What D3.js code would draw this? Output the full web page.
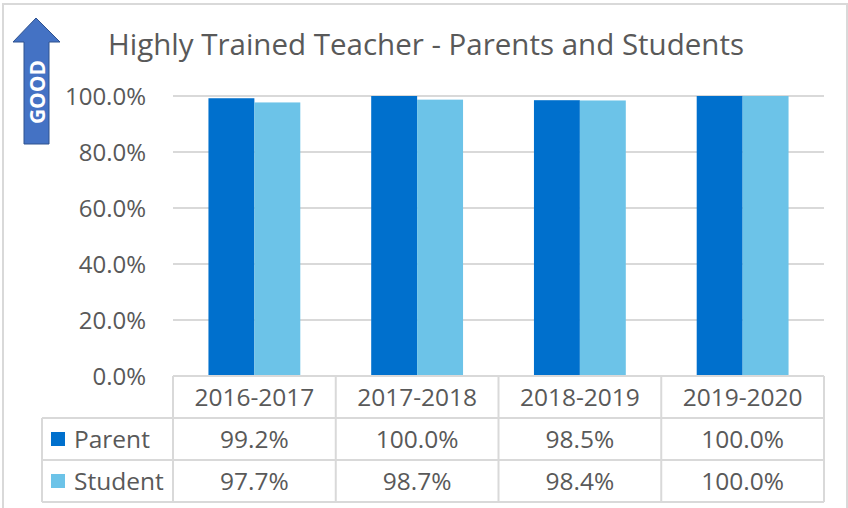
<!DOCTYPE html>
<html><head><meta charset="utf-8">
<script src="https://cdn.jsdelivr.net/npm/d3@7"></script>
<style>body{margin:0;background:#fff}svg{display:block}</style>
</head><body>
<script>
const categories = ["2016-2017","2017-2018","2018-2019","2019-2020"];
const seriesNames = ["Parent","Student"];
const parentValues = [99.2, 100.0, 98.5, 100.0];
const studentValues = [97.7, 98.7, 98.4, 100.0];
const yTicks = [0, 20, 40, 60, 80, 100];
const colors = ["#0070CD", "#6CC3E8"];
const title = "Highly Trained Teacher - Parents and Students";

const W = 848, H = 508;
const font = "'Open Sans', sans-serif";
const textColor = "#595959";
const gridColor = "#D9D9D9";
const svg = d3.select("body").append("svg").attr("width", W).attr("height", H);

// outer border
svg.append("rect").attr("x", 3).attr("y", 4).attr("width", 844).attr("height", 510)
  .attr("fill", "none").attr("stroke", "#D9D9D9").attr("stroke-width", 2);

const plotLeft = 173, plotRight = 824, plotTop = 96, plotBottom = 376;
const x = d3.scaleBand().domain(categories).range([plotLeft, plotRight]);
const y = d3.scaleLinear().domain([0, 100]).range([plotBottom, plotTop]);
const inner = d3.scaleBand().domain(seriesNames).range([0, x.bandwidth()]).paddingOuter(0.772).paddingInner(0);

// gridlines
svg.append("g").selectAll("line").data(yTicks.filter(d => d > 0)).join("line")
  .attr("x1", plotLeft).attr("x2", plotRight)
  .attr("y1", d => y(d)).attr("y2", d => y(d))
  .attr("stroke", gridColor).attr("stroke-width", 2);

// y axis labels
const yAxis = d3.axisLeft(y).tickValues(yTicks).tickFormat(d => d.toFixed(1) + "%").tickSize(0).tickPadding(0);
const ya = svg.append("g").attr("transform", `translate(146,0)`).call(yAxis);
ya.select(".domain").remove();
ya.selectAll("text").attr("font-family", font).attr("font-size", 24).attr("fill", textColor).attr("dy", "0.35em");

// bars
const series = [parentValues, studentValues];
categories.forEach((c, i) => {
  seriesNames.forEach((s, j) => {
    svg.append("rect")
      .attr("x", x(c) + inner(s))
      .attr("y", y(series[j][i]))
      .attr("width", inner.bandwidth())
      .attr("height", y(0) - y(series[j][i]))
      .attr("fill", colors[j]);
  });
});

// data table
const rowH = 42;
const tableTop = plotBottom;
const legendLeft = 42;
const tg = svg.append("g");
tg.append("line").attr("x1", plotLeft).attr("x2", plotRight).attr("y1", tableTop).attr("y2", tableTop);
[1, 2, 3].forEach(r => {
  tg.append("line").attr("x1", legendLeft).attr("x2", plotRight)
    .attr("y1", tableTop + r * rowH).attr("y2", tableTop + r * rowH);
});
tg.append("line").attr("x1", legendLeft).attr("x2", legendLeft).attr("y1", tableTop + rowH).attr("y2", tableTop + 3 * rowH);
categories.concat([null]).forEach((c, i) => {
  const xx = c ? x(c) : plotRight;
  tg.append("line").attr("x1", xx).attr("x2", xx).attr("y1", tableTop).attr("y2", tableTop + 3 * rowH);
});
tg.selectAll("line").attr("stroke", gridColor).attr("stroke-width", 2);

const cellSize = 24.5;
// header
svg.append("g").selectAll("text").data(categories).join("text")
  .attr("x", d => x(d) + x.bandwidth() / 2).attr("y", tableTop + rowH / 2)
  .attr("dy", "0.35em").attr("text-anchor", "middle")
  .attr("font-family", font).attr("font-size", cellSize).attr("fill", textColor).text(d => d);

// rows
seriesNames.forEach((s, j) => {
  const cy = tableTop + rowH * (j + 1) + rowH / 2;
  svg.append("rect").attr("x", 51).attr("y", cy - 7).attr("width", 14).attr("height", 14).attr("fill", colors[j]);
  svg.append("text").attr("x", 74).attr("y", cy).attr("dy", "0.35em")
    .attr("font-family", font).attr("font-size", cellSize).attr("fill", textColor).text(s);
  categories.forEach((c, i) => {
    svg.append("text").attr("x", x(c) + x.bandwidth() / 2).attr("y", cy).attr("dy", "0.35em")
      .attr("text-anchor", "middle").attr("font-family", font).attr("font-size", cellSize)
      .attr("fill", textColor).text(series[j][i].toFixed(1) + "%");
  });
});

// title
svg.append("text").attr("x", 426).attr("y", 55).attr("text-anchor", "middle")
  .attr("font-family", font).attr("font-size", 29.5).attr("fill", textColor).text(title);

// GOOD arrow
const arrow = d3.path();
arrow.moveTo(36, 18); arrow.lineTo(60, 42); arrow.lineTo(49, 42); arrow.lineTo(49, 144);
arrow.lineTo(24, 144); arrow.lineTo(24, 42); arrow.lineTo(13, 42); arrow.closePath();
svg.append("path").attr("d", arrow.toString()).attr("fill", "#4472C4").attr("stroke", "#2F528F").attr("stroke-width", 1);
svg.append("text").attr("transform", "translate(37.5,92) rotate(-90)").attr("text-anchor", "middle").attr("dy", "0.36em")
  .attr("font-family", font).attr("font-weight", "bold").attr("font-size", 21).attr("fill", "#fff").text("GOOD");
</script>
</body></html>
